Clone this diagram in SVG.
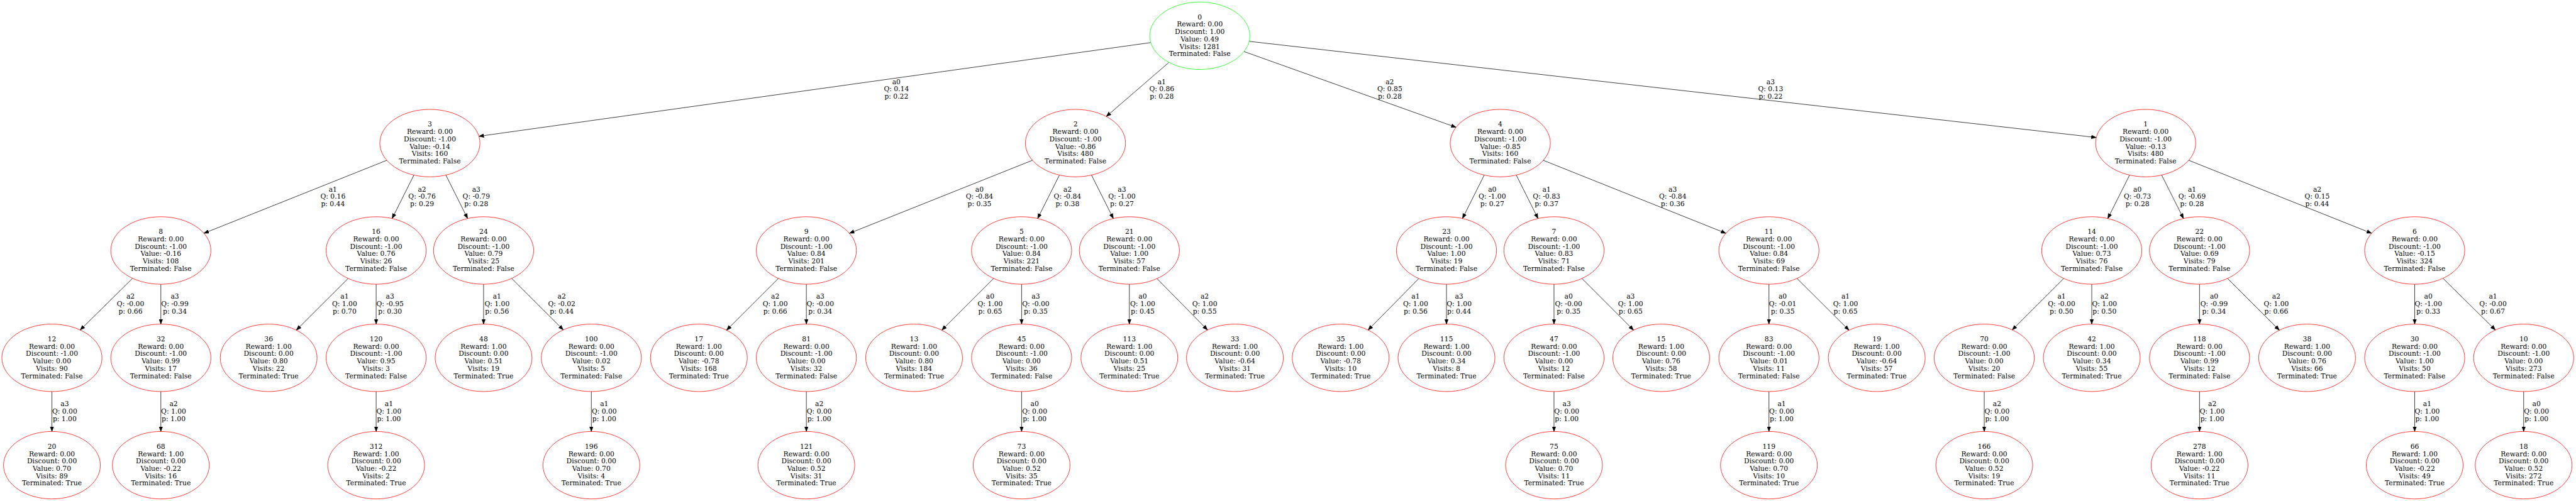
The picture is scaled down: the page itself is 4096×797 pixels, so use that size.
<svg xmlns="http://www.w3.org/2000/svg" width="4096" height="797" viewBox="0 0 4096 797">
<defs>
<style>
text{font-family:"DejaVu Serif",serif;font-size:18.5px;text-anchor:middle;fill:#000}
ellipse{fill:none;stroke:#ff0000;stroke-width:1.3}
ellipse.root{stroke:#00ff00}
.e path{fill:none;stroke:#000;stroke-width:1.3;marker-end:url(#ah)}
</style>
<marker id="ah" markerUnits="userSpaceOnUse" markerWidth="14" markerHeight="11" refX="13.5" refY="5" orient="auto" viewBox="0 0 14 10"><path d="M0,0L13.5,5L0,10Z" fill="#000" stroke="#000" stroke-width="1"/></marker>
</defs>
<rect width="4096" height="797" fill="#fff"/>
<g transform="scale(0.583226)">
<g id="connectors" class="e">
<g id="e0-3"><path d="M3137.3,116.15L1305.67,371.7"/><text x="2443.9" y="229.3">a0<tspan x="2443.9" dy="20.1">Q: 0.14</tspan><tspan x="2443.9" dy="20.1">p: 0.22</tspan></text></g>
<g id="e0-2"><path d="M3187.05,170.04L3016.05,317.81"/><text x="3167.4" y="229.3">a1<tspan x="3167.4" dy="20.1">Q: 0.86</tspan><tspan x="3167.4" dy="20.1">p: 0.28</tspan></text></g>
<g id="e0-4"><path d="M3391.59,140.61L3969.61,347.24"/><text x="3789" y="229.3">a2<tspan x="3789" dy="20.1">Q: 0.85</tspan><tspan x="3789" dy="20.1">p: 0.28</tspan></text></g>
<g id="e0-1"><path d="M3405.6,112.79L5715.1,375.06"/><text x="4827.3" y="229.3">a3<tspan x="4827.3" dy="20.1">Q: 0.13</tspan><tspan x="4827.3" dy="20.1">p: 0.22</tspan></text></g>
<g id="e3-8"><path d="M1054.56,437.24L555.94,636.31"/><text x="907.6" y="522.15">a1<tspan x="907.6" dy="20.1">Q: 0.16</tspan><tspan x="907.6" dy="20.1">p: 0.44</tspan></text></g>
<g id="e3-16"><path d="M1128.39,477.53L1069.11,596.02"/><text x="1150.6" y="522.15">a2<tspan x="1150.6" dy="20.1">Q: -0.76</tspan><tspan x="1150.6" dy="20.1">p: 0.29</tspan></text></g>
<g id="e3-24"><path d="M1215.58,477.53L1274.82,596.02"/><text x="1298.5" y="522.15">a3<tspan x="1298.5" dy="20.1">Q: -0.79</tspan><tspan x="1298.5" dy="20.1">p: 0.28</tspan></text></g>
<g id="e2-9"><path d="M2814.65,437.23L2315.85,636.32"/><text x="2670.4" y="522.15">a0<tspan x="2670.4" dy="20.1">Q: -0.84</tspan><tspan x="2670.4" dy="20.1">p: 0.35</tspan></text></g>
<g id="e2-5"><path d="M2888.38,477.5L2828.92,596.05"/><text x="2910.3" y="522.15">a2<tspan x="2910.3" dy="20.1">Q: -0.84</tspan><tspan x="2910.3" dy="20.1">p: 0.38</tspan></text></g>
<g id="e2-21"><path d="M2975.82,477.5L3035.28,596.05"/><text x="3058.8" y="522.15">a3<tspan x="3058.8" dy="20.1">Q: -1.00</tspan><tspan x="3058.8" dy="20.1">p: 0.27</tspan></text></g>
<g id="e4-23"><path d="M4046.56,477.52L3987.24,596.03"/><text x="4068.4" y="522.15">a0<tspan x="4068.4" dy="20.1">Q: -1.00</tspan><tspan x="4068.4" dy="20.1">p: 0.27</tspan></text></g>
<g id="e4-7"><path d="M4133.81,477.53L4193.09,596.02"/><text x="4216.4" y="522.15">a1<tspan x="4216.4" dy="20.1">Q: -0.83</tspan><tspan x="4216.4" dy="20.1">p: 0.37</tspan></text></g>
<g id="e4-11"><path d="M4207.6,437.29L4705.3,636.26"/><text x="4560.4" y="522.15">a3<tspan x="4560.4" dy="20.1">Q: -0.84</tspan><tspan x="4560.4" dy="20.1">p: 0.36</tspan></text></g>
<g id="e1-14"><path d="M5805.98,477.5L5746.52,596.05"/><text x="5827.3" y="522.15">a0<tspan x="5827.3" dy="20.1">Q: -0.73</tspan><tspan x="5827.3" dy="20.1">p: 0.28</tspan></text></g>
<g id="e1-22"><path d="M5893.42,477.5L5952.88,596.05"/><text x="5976.3" y="522.15">a1<tspan x="5976.3" dy="20.1">Q: -0.69</tspan><tspan x="5976.3" dy="20.1">p: 0.28</tspan></text></g>
<g id="e1-6"><path d="M5967.14,437.24L6465.76,636.31"/><text x="6317.5" y="522.15">a2<tspan x="6317.5" dy="20.1">Q: 0.15</tspan><tspan x="6317.5" dy="20.1">p: 0.44</tspan></text></g>
<g id="e8-12"><path d="M361.49,759.16L218.61,900.09"/><text x="355.9" y="815">a2<tspan x="355.9" dy="20.1">Q: -0.00</tspan><tspan x="355.9" dy="20.1">p: 0.66</tspan></text></g>
<g id="e8-32"><path d="M438.5,775.2V884.05"/><text x="476.8" y="815">a3<tspan x="476.8" dy="20.1">Q: -0.99</tspan><tspan x="476.8" dy="20.1">p: 0.34</tspan></text></g>
<g id="e16-36"><path d="M949.17,759.47L807.92,900.6"/><text x="939.4" y="815">a1<tspan x="939.4" dy="20.1">Q: 1.00</tspan><tspan x="939.4" dy="20.1">p: 0.70</tspan></text></g>
<g id="e16-120"><path d="M1025.5,775.2V884.05"/><text x="1063.4" y="815">a3<tspan x="1063.4" dy="20.1">Q: -0.95</tspan><tspan x="1063.4" dy="20.1">p: 0.30</tspan></text></g>
<g id="e24-48"><path d="M1318.4,775.2V884.05"/><text x="1355.1" y="815">a1<tspan x="1355.1" dy="20.1">Q: 1.00</tspan><tspan x="1355.1" dy="20.1">p: 0.56</tspan></text></g>
<g id="e24-100"><path d="M1394.86,759.41L1535.74,899.84"/><text x="1531.5" y="815">a2<tspan x="1531.5" dy="20.1">Q: -0.02</tspan><tspan x="1531.5" dy="20.1">p: 0.44</tspan></text></g>
<g id="e9-17"><path d="M2122.07,759.47L1980.82,900.6"/><text x="2113.5" y="815">a2<tspan x="2113.5" dy="20.1">Q: 1.00</tspan><tspan x="2113.5" dy="20.1">p: 0.66</tspan></text></g>
<g id="e9-81"><path d="M2198.4,775.2V884.05"/><text x="2236.3" y="815">a3<tspan x="2236.3" dy="20.1">Q: -0.00</tspan><tspan x="2236.3" dy="20.1">p: 0.34</tspan></text></g>
<g id="e5-13"><path d="M2708.87,759.47L2567.62,900.6"/><text x="2699.5" y="815">a0<tspan x="2699.5" dy="20.1">Q: 1.00</tspan><tspan x="2699.5" dy="20.1">p: 0.65</tspan></text></g>
<g id="e5-45"><path d="M2785.2,775.2V884.05"/><text x="2823.8" y="815">a3<tspan x="2823.8" dy="20.1">Q: -0.00</tspan><tspan x="2823.8" dy="20.1">p: 0.35</tspan></text></g>
<g id="e21-113"><path d="M3079,775.2V884.05"/><text x="3115.4" y="815">a0<tspan x="3115.4" dy="20.1">Q: 1.00</tspan><tspan x="3115.4" dy="20.1">p: 0.45</tspan></text></g>
<g id="e21-33"><path d="M3154.38,759.9L3292.21,900.15"/><text x="3284.5" y="815">a2<tspan x="3284.5" dy="20.1">Q: 1.00</tspan><tspan x="3284.5" dy="20.1">p: 0.55</tspan></text></g>
<g id="e23-35"><path d="M3868.1,759.84L3729.82,900.21"/><text x="3859.4" y="815">a1<tspan x="3859.4" dy="20.1">Q: 1.00</tspan><tspan x="3859.4" dy="20.1">p: 0.56</tspan></text></g>
<g id="e23-115"><path d="M3943.6,775.2V884.05"/><text x="3978" y="815">a3<tspan x="3978" dy="20.1">Q: 1.00</tspan><tspan x="3978" dy="20.1">p: 0.44</tspan></text></g>
<g id="e7-47"><path d="M4236.7,775.2V884.05"/><text x="4276.5" y="815">a0<tspan x="4276.5" dy="20.1">Q: -0.00</tspan><tspan x="4276.5" dy="20.1">p: 0.35</tspan></text></g>
<g id="e7-15"><path d="M4312.89,759.53L4453.62,900.53"/><text x="4445.6" y="815">a3<tspan x="4445.6" dy="20.1">Q: 1.00</tspan><tspan x="4445.6" dy="20.1">p: 0.65</tspan></text></g>
<g id="e11-83"><path d="M4822.7,775.2V884.05"/><text x="4860.2" y="815">a0<tspan x="4860.2" dy="20.1">Q: -0.01</tspan><tspan x="4860.2" dy="20.1">p: 0.35</tspan></text></g>
<g id="e11-19"><path d="M4899.18,759.4L5040.94,900.66"/><text x="5031.6" y="815">a1<tspan x="5031.6" dy="20.1">Q: 1.00</tspan><tspan x="5031.6" dy="20.1">p: 0.65</tspan></text></g>
<g id="e14-70"><path d="M5626.47,759.47L5486.03,899.78"/><text x="5620.5" y="815">a1<tspan x="5620.5" dy="20.1">Q: -0.00</tspan><tspan x="5620.5" dy="20.1">p: 0.50</tspan></text></g>
<g id="e14-42"><path d="M5702.8,775.2V884.05"/><text x="5737.6" y="815">a2<tspan x="5737.6" dy="20.1">Q: 1.00</tspan><tspan x="5737.6" dy="20.1">p: 0.50</tspan></text></g>
<g id="e22-118"><path d="M5996.6,775.2V884.05"/><text x="6036.3" y="815">a0<tspan x="6036.3" dy="20.1">Q: -0.99</tspan><tspan x="6036.3" dy="20.1">p: 0.34</tspan></text></g>
<g id="e22-38"><path d="M6072.98,759.45L6214.35,900.61"/><text x="6206" y="815">a2<tspan x="6206" dy="20.1">Q: 1.00</tspan><tspan x="6206" dy="20.1">p: 0.66</tspan></text></g>
<g id="e6-30"><path d="M6583.2,775.2V884.05"/><text x="6620.5" y="815">a0<tspan x="6620.5" dy="20.1">Q: -1.00</tspan><tspan x="6620.5" dy="20.1">p: 0.33</tspan></text></g>
<g id="e6-10"><path d="M6660.24,759.14L6803.26,900.11"/><text x="6796.8" y="815">a1<tspan x="6796.8" dy="20.1">Q: -0.00</tspan><tspan x="6796.8" dy="20.1">p: 0.67</tspan></text></g>
<g id="e12-20"><path d="M141.6,1068.05V1176.9"/><text x="176.4" y="1107.85">a3<tspan x="176.4" dy="20.1">Q: 0.00</tspan><tspan x="176.4" dy="20.1">p: 1.00</tspan></text></g>
<g id="e32-68"><path d="M438.5,1068.05V1176.9"/><text x="473.3" y="1107.85">a2<tspan x="473.3" dy="20.1">Q: 1.00</tspan><tspan x="473.3" dy="20.1">p: 1.00</tspan></text></g>
<g id="e120-312"><path d="M1025.5,1068.05V1176.9"/><text x="1060.3" y="1107.85">a1<tspan x="1060.3" dy="20.1">Q: 1.00</tspan><tspan x="1060.3" dy="20.1">p: 1.00</tspan></text></g>
<g id="e100-196"><path d="M1612.2,1068.05V1176.9"/><text x="1647.4" y="1107.85">a1<tspan x="1647.4" dy="20.1">Q: 0.00</tspan><tspan x="1647.4" dy="20.1">p: 1.00</tspan></text></g>
<g id="e81-121"><path d="M2198.4,1068.05V1176.9"/><text x="2233.6" y="1107.85">a2<tspan x="2233.6" dy="20.1">Q: 0.00</tspan><tspan x="2233.6" dy="20.1">p: 1.00</tspan></text></g>
<g id="e45-73"><path d="M2785.2,1068.05V1176.9"/><text x="2820.8" y="1107.85">a0<tspan x="2820.8" dy="20.1">Q: 0.00</tspan><tspan x="2820.8" dy="20.1">p: 1.00</tspan></text></g>
<g id="e47-75"><path d="M4236.7,1068.05V1176.9"/><text x="4271.5" y="1107.85">a3<tspan x="4271.5" dy="20.1">Q: 0.00</tspan><tspan x="4271.5" dy="20.1">p: 1.00</tspan></text></g>
<g id="e83-119"><path d="M4822.7,1068.05V1176.9"/><text x="4857.5" y="1107.85">a1<tspan x="4857.5" dy="20.1">Q: 0.00</tspan><tspan x="4857.5" dy="20.1">p: 1.00</tspan></text></g>
<g id="e70-166"><path d="M5409.7,1068.05V1176.9"/><text x="5444.5" y="1107.85">a2<tspan x="5444.5" dy="20.1">Q: 0.00</tspan><tspan x="5444.5" dy="20.1">p: 1.00</tspan></text></g>
<g id="e118-278"><path d="M5996.6,1068.05V1176.9"/><text x="6031.3" y="1107.85">a2<tspan x="6031.3" dy="20.1">Q: 1.00</tspan><tspan x="6031.3" dy="20.1">p: 1.00</tspan></text></g>
<g id="e30-66"><path d="M6583.2,1068.05V1176.9"/><text x="6617.4" y="1107.85">a1<tspan x="6617.4" dy="20.1">Q: 1.00</tspan><tspan x="6617.4" dy="20.1">p: 1.00</tspan></text></g>
<g id="e10-18"><path d="M6880.3,1068.05V1176.9"/><text x="6915.4" y="1107.85">a0<tspan x="6915.4" dy="20.1">Q: 0.00</tspan><tspan x="6915.4" dy="20.1">p: 1.00</tspan></text></g>
</g>
<g id="nodes">
<g id="node-0"><ellipse class="root" cx="3271" cy="97.5" rx="136.5" ry="92"/><text x="3271" y="52.5">0<tspan x="3271" dy="20.1">Reward: 0.00</tspan><tspan x="3271" dy="20.1">Discount: 1.00</tspan><tspan x="3271" dy="20.1">Value: 0.49</tspan><tspan x="3271" dy="20.1">Visits: 1281</tspan><tspan x="3271" dy="20.1">Terminated: False</tspan></text></g>
<g id="node-3"><ellipse cx="1172" cy="390.35" rx="136.5" ry="92"/><text x="1172" y="345.35">3<tspan x="1172" dy="20.1">Reward: 0.00</tspan><tspan x="1172" dy="20.1">Discount: -1.00</tspan><tspan x="1172" dy="20.1">Value: -0.14</tspan><tspan x="1172" dy="20.1">Visits: 160</tspan><tspan x="1172" dy="20.1">Terminated: False</tspan></text></g>
<g id="node-2"><ellipse cx="2932.1" cy="390.35" rx="136.5" ry="92"/><text x="2932.1" y="345.35">2<tspan x="2932.1" dy="20.1">Reward: 0.00</tspan><tspan x="2932.1" dy="20.1">Discount: -1.00</tspan><tspan x="2932.1" dy="20.1">Value: -0.86</tspan><tspan x="2932.1" dy="20.1">Visits: 480</tspan><tspan x="2932.1" dy="20.1">Terminated: False</tspan></text></g>
<g id="node-4"><ellipse cx="4090.2" cy="390.35" rx="136.5" ry="92"/><text x="4090.2" y="345.35">4<tspan x="4090.2" dy="20.1">Reward: 0.00</tspan><tspan x="4090.2" dy="20.1">Discount: -1.00</tspan><tspan x="4090.2" dy="20.1">Value: -0.85</tspan><tspan x="4090.2" dy="20.1">Visits: 160</tspan><tspan x="4090.2" dy="20.1">Terminated: False</tspan></text></g>
<g id="node-1"><ellipse cx="5849.7" cy="390.35" rx="136.5" ry="92"/><text x="5849.7" y="345.35">1<tspan x="5849.7" dy="20.1">Reward: 0.00</tspan><tspan x="5849.7" dy="20.1">Discount: -1.00</tspan><tspan x="5849.7" dy="20.1">Value: -0.13</tspan><tspan x="5849.7" dy="20.1">Visits: 480</tspan><tspan x="5849.7" dy="20.1">Terminated: False</tspan></text></g>
<g id="node-8"><ellipse cx="438.5" cy="683.2" rx="136.5" ry="92"/><text x="438.5" y="638.2">8<tspan x="438.5" dy="20.1">Reward: 0.00</tspan><tspan x="438.5" dy="20.1">Discount: -1.00</tspan><tspan x="438.5" dy="20.1">Value: -0.16</tspan><tspan x="438.5" dy="20.1">Visits: 108</tspan><tspan x="438.5" dy="20.1">Terminated: False</tspan></text></g>
<g id="node-16"><ellipse cx="1025.5" cy="683.2" rx="136.5" ry="92"/><text x="1025.5" y="638.2">16<tspan x="1025.5" dy="20.1">Reward: 0.00</tspan><tspan x="1025.5" dy="20.1">Discount: -1.00</tspan><tspan x="1025.5" dy="20.1">Value: 0.76</tspan><tspan x="1025.5" dy="20.1">Visits: 26</tspan><tspan x="1025.5" dy="20.1">Terminated: False</tspan></text></g>
<g id="node-24"><ellipse cx="1318.4" cy="683.2" rx="136.5" ry="92"/><text x="1318.4" y="638.2">24<tspan x="1318.4" dy="20.1">Reward: 0.00</tspan><tspan x="1318.4" dy="20.1">Discount: -1.00</tspan><tspan x="1318.4" dy="20.1">Value: 0.79</tspan><tspan x="1318.4" dy="20.1">Visits: 25</tspan><tspan x="1318.4" dy="20.1">Terminated: False</tspan></text></g>
<g id="node-9"><ellipse cx="2198.4" cy="683.2" rx="136.5" ry="92"/><text x="2198.4" y="638.2">9<tspan x="2198.4" dy="20.1">Reward: 0.00</tspan><tspan x="2198.4" dy="20.1">Discount: -1.00</tspan><tspan x="2198.4" dy="20.1">Value: 0.84</tspan><tspan x="2198.4" dy="20.1">Visits: 201</tspan><tspan x="2198.4" dy="20.1">Terminated: False</tspan></text></g>
<g id="node-5"><ellipse cx="2785.2" cy="683.2" rx="136.5" ry="92"/><text x="2785.2" y="638.2">5<tspan x="2785.2" dy="20.1">Reward: 0.00</tspan><tspan x="2785.2" dy="20.1">Discount: -1.00</tspan><tspan x="2785.2" dy="20.1">Value: 0.84</tspan><tspan x="2785.2" dy="20.1">Visits: 221</tspan><tspan x="2785.2" dy="20.1">Terminated: False</tspan></text></g>
<g id="node-21"><ellipse cx="3079" cy="683.2" rx="136.5" ry="92"/><text x="3079" y="638.2">21<tspan x="3079" dy="20.1">Reward: 0.00</tspan><tspan x="3079" dy="20.1">Discount: -1.00</tspan><tspan x="3079" dy="20.1">Value: 1.00</tspan><tspan x="3079" dy="20.1">Visits: 57</tspan><tspan x="3079" dy="20.1">Terminated: False</tspan></text></g>
<g id="node-23"><ellipse cx="3943.6" cy="683.2" rx="136.5" ry="92"/><text x="3943.6" y="638.2">23<tspan x="3943.6" dy="20.1">Reward: 0.00</tspan><tspan x="3943.6" dy="20.1">Discount: -1.00</tspan><tspan x="3943.6" dy="20.1">Value: 1.00</tspan><tspan x="3943.6" dy="20.1">Visits: 19</tspan><tspan x="3943.6" dy="20.1">Terminated: False</tspan></text></g>
<g id="node-7"><ellipse cx="4236.7" cy="683.2" rx="136.5" ry="92"/><text x="4236.7" y="638.2">7<tspan x="4236.7" dy="20.1">Reward: 0.00</tspan><tspan x="4236.7" dy="20.1">Discount: -1.00</tspan><tspan x="4236.7" dy="20.1">Value: 0.83</tspan><tspan x="4236.7" dy="20.1">Visits: 71</tspan><tspan x="4236.7" dy="20.1">Terminated: False</tspan></text></g>
<g id="node-11"><ellipse cx="4822.7" cy="683.2" rx="136.5" ry="92"/><text x="4822.7" y="638.2">11<tspan x="4822.7" dy="20.1">Reward: 0.00</tspan><tspan x="4822.7" dy="20.1">Discount: -1.00</tspan><tspan x="4822.7" dy="20.1">Value: 0.84</tspan><tspan x="4822.7" dy="20.1">Visits: 69</tspan><tspan x="4822.7" dy="20.1">Terminated: False</tspan></text></g>
<g id="node-14"><ellipse cx="5702.8" cy="683.2" rx="136.5" ry="92"/><text x="5702.8" y="638.2">14<tspan x="5702.8" dy="20.1">Reward: 0.00</tspan><tspan x="5702.8" dy="20.1">Discount: -1.00</tspan><tspan x="5702.8" dy="20.1">Value: 0.73</tspan><tspan x="5702.8" dy="20.1">Visits: 76</tspan><tspan x="5702.8" dy="20.1">Terminated: False</tspan></text></g>
<g id="node-22"><ellipse cx="5996.6" cy="683.2" rx="136.5" ry="92"/><text x="5996.6" y="638.2">22<tspan x="5996.6" dy="20.1">Reward: 0.00</tspan><tspan x="5996.6" dy="20.1">Discount: -1.00</tspan><tspan x="5996.6" dy="20.1">Value: 0.69</tspan><tspan x="5996.6" dy="20.1">Visits: 79</tspan><tspan x="5996.6" dy="20.1">Terminated: False</tspan></text></g>
<g id="node-6"><ellipse cx="6583.2" cy="683.2" rx="136.5" ry="92"/><text x="6583.2" y="638.2">6<tspan x="6583.2" dy="20.1">Reward: 0.00</tspan><tspan x="6583.2" dy="20.1">Discount: -1.00</tspan><tspan x="6583.2" dy="20.1">Value: -0.15</tspan><tspan x="6583.2" dy="20.1">Visits: 324</tspan><tspan x="6583.2" dy="20.1">Terminated: False</tspan></text></g>
<g id="node-12"><ellipse cx="141.6" cy="976.05" rx="136.5" ry="92"/><text x="141.6" y="931.05">12<tspan x="141.6" dy="20.1">Reward: 0.00</tspan><tspan x="141.6" dy="20.1">Discount: -1.00</tspan><tspan x="141.6" dy="20.1">Value: 0.00</tspan><tspan x="141.6" dy="20.1">Visits: 90</tspan><tspan x="141.6" dy="20.1">Terminated: False</tspan></text></g>
<g id="node-32"><ellipse cx="438.5" cy="976.05" rx="136.5" ry="92"/><text x="438.5" y="931.05">32<tspan x="438.5" dy="20.1">Reward: 0.00</tspan><tspan x="438.5" dy="20.1">Discount: -1.00</tspan><tspan x="438.5" dy="20.1">Value: 0.99</tspan><tspan x="438.5" dy="20.1">Visits: 17</tspan><tspan x="438.5" dy="20.1">Terminated: False</tspan></text></g>
<g id="node-36"><ellipse cx="732.4" cy="976.05" rx="132" ry="92"/><text x="732.4" y="931.05">36<tspan x="732.4" dy="20.1">Reward: 1.00</tspan><tspan x="732.4" dy="20.1">Discount: 0.00</tspan><tspan x="732.4" dy="20.1">Value: 0.80</tspan><tspan x="732.4" dy="20.1">Visits: 22</tspan><tspan x="732.4" dy="20.1">Terminated: True</tspan></text></g>
<g id="node-120"><ellipse cx="1025.5" cy="976.05" rx="136.5" ry="92"/><text x="1025.5" y="931.05">120<tspan x="1025.5" dy="20.1">Reward: 0.00</tspan><tspan x="1025.5" dy="20.1">Discount: -1.00</tspan><tspan x="1025.5" dy="20.1">Value: 0.95</tspan><tspan x="1025.5" dy="20.1">Visits: 3</tspan><tspan x="1025.5" dy="20.1">Terminated: False</tspan></text></g>
<g id="node-48"><ellipse cx="1318.4" cy="976.05" rx="132" ry="92"/><text x="1318.4" y="931.05">48<tspan x="1318.4" dy="20.1">Reward: 1.00</tspan><tspan x="1318.4" dy="20.1">Discount: 0.00</tspan><tspan x="1318.4" dy="20.1">Value: 0.51</tspan><tspan x="1318.4" dy="20.1">Visits: 19</tspan><tspan x="1318.4" dy="20.1">Terminated: True</tspan></text></g>
<g id="node-100"><ellipse cx="1612.2" cy="976.05" rx="136.5" ry="92"/><text x="1612.2" y="931.05">100<tspan x="1612.2" dy="20.1">Reward: 0.00</tspan><tspan x="1612.2" dy="20.1">Discount: -1.00</tspan><tspan x="1612.2" dy="20.1">Value: 0.02</tspan><tspan x="1612.2" dy="20.1">Visits: 5</tspan><tspan x="1612.2" dy="20.1">Terminated: False</tspan></text></g>
<g id="node-17"><ellipse cx="1905.3" cy="976.05" rx="132" ry="92"/><text x="1905.3" y="931.05">17<tspan x="1905.3" dy="20.1">Reward: 1.00</tspan><tspan x="1905.3" dy="20.1">Discount: 0.00</tspan><tspan x="1905.3" dy="20.1">Value: -0.78</tspan><tspan x="1905.3" dy="20.1">Visits: 168</tspan><tspan x="1905.3" dy="20.1">Terminated: True</tspan></text></g>
<g id="node-81"><ellipse cx="2198.4" cy="976.05" rx="136.5" ry="92"/><text x="2198.4" y="931.05">81<tspan x="2198.4" dy="20.1">Reward: 0.00</tspan><tspan x="2198.4" dy="20.1">Discount: -1.00</tspan><tspan x="2198.4" dy="20.1">Value: 0.00</tspan><tspan x="2198.4" dy="20.1">Visits: 32</tspan><tspan x="2198.4" dy="20.1">Terminated: False</tspan></text></g>
<g id="node-13"><ellipse cx="2492.1" cy="976.05" rx="132" ry="92"/><text x="2492.1" y="931.05">13<tspan x="2492.1" dy="20.1">Reward: 1.00</tspan><tspan x="2492.1" dy="20.1">Discount: 0.00</tspan><tspan x="2492.1" dy="20.1">Value: 0.80</tspan><tspan x="2492.1" dy="20.1">Visits: 184</tspan><tspan x="2492.1" dy="20.1">Terminated: True</tspan></text></g>
<g id="node-45"><ellipse cx="2785.2" cy="976.05" rx="136.5" ry="92"/><text x="2785.2" y="931.05">45<tspan x="2785.2" dy="20.1">Reward: 0.00</tspan><tspan x="2785.2" dy="20.1">Discount: -1.00</tspan><tspan x="2785.2" dy="20.1">Value: 0.00</tspan><tspan x="2785.2" dy="20.1">Visits: 36</tspan><tspan x="2785.2" dy="20.1">Terminated: False</tspan></text></g>
<g id="node-113"><ellipse cx="3079" cy="976.05" rx="132" ry="92"/><text x="3079" y="931.05">113<tspan x="3079" dy="20.1">Reward: 1.00</tspan><tspan x="3079" dy="20.1">Discount: 0.00</tspan><tspan x="3079" dy="20.1">Value: 0.51</tspan><tspan x="3079" dy="20.1">Visits: 25</tspan><tspan x="3079" dy="20.1">Terminated: True</tspan></text></g>
<g id="node-33"><ellipse cx="3366.8" cy="976.05" rx="132" ry="92"/><text x="3366.8" y="931.05">33<tspan x="3366.8" dy="20.1">Reward: 1.00</tspan><tspan x="3366.8" dy="20.1">Discount: 0.00</tspan><tspan x="3366.8" dy="20.1">Value: -0.64</tspan><tspan x="3366.8" dy="20.1">Visits: 31</tspan><tspan x="3366.8" dy="20.1">Terminated: True</tspan></text></g>
<g id="node-35"><ellipse cx="3655.1" cy="976.05" rx="132" ry="92"/><text x="3655.1" y="931.05">35<tspan x="3655.1" dy="20.1">Reward: 1.00</tspan><tspan x="3655.1" dy="20.1">Discount: 0.00</tspan><tspan x="3655.1" dy="20.1">Value: -0.78</tspan><tspan x="3655.1" dy="20.1">Visits: 10</tspan><tspan x="3655.1" dy="20.1">Terminated: True</tspan></text></g>
<g id="node-115"><ellipse cx="3943.6" cy="976.05" rx="132" ry="92"/><text x="3943.6" y="931.05">115<tspan x="3943.6" dy="20.1">Reward: 1.00</tspan><tspan x="3943.6" dy="20.1">Discount: 0.00</tspan><tspan x="3943.6" dy="20.1">Value: 0.34</tspan><tspan x="3943.6" dy="20.1">Visits: 8</tspan><tspan x="3943.6" dy="20.1">Terminated: True</tspan></text></g>
<g id="node-47"><ellipse cx="4236.7" cy="976.05" rx="136.5" ry="92"/><text x="4236.7" y="931.05">47<tspan x="4236.7" dy="20.1">Reward: 0.00</tspan><tspan x="4236.7" dy="20.1">Discount: -1.00</tspan><tspan x="4236.7" dy="20.1">Value: 0.00</tspan><tspan x="4236.7" dy="20.1">Visits: 12</tspan><tspan x="4236.7" dy="20.1">Terminated: False</tspan></text></g>
<g id="node-15"><ellipse cx="4529" cy="976.05" rx="132" ry="92"/><text x="4529" y="931.05">15<tspan x="4529" dy="20.1">Reward: 1.00</tspan><tspan x="4529" dy="20.1">Discount: 0.00</tspan><tspan x="4529" dy="20.1">Value: 0.76</tspan><tspan x="4529" dy="20.1">Visits: 58</tspan><tspan x="4529" dy="20.1">Terminated: True</tspan></text></g>
<g id="node-83"><ellipse cx="4822.7" cy="976.05" rx="136.5" ry="92"/><text x="4822.7" y="931.05">83<tspan x="4822.7" dy="20.1">Reward: 0.00</tspan><tspan x="4822.7" dy="20.1">Discount: -1.00</tspan><tspan x="4822.7" dy="20.1">Value: 0.01</tspan><tspan x="4822.7" dy="20.1">Visits: 11</tspan><tspan x="4822.7" dy="20.1">Terminated: False</tspan></text></g>
<g id="node-19"><ellipse cx="5116.6" cy="976.05" rx="132" ry="92"/><text x="5116.6" y="931.05">19<tspan x="5116.6" dy="20.1">Reward: 1.00</tspan><tspan x="5116.6" dy="20.1">Discount: 0.00</tspan><tspan x="5116.6" dy="20.1">Value: -0.64</tspan><tspan x="5116.6" dy="20.1">Visits: 57</tspan><tspan x="5116.6" dy="20.1">Terminated: True</tspan></text></g>
<g id="node-70"><ellipse cx="5409.7" cy="976.05" rx="136.5" ry="92"/><text x="5409.7" y="931.05">70<tspan x="5409.7" dy="20.1">Reward: 0.00</tspan><tspan x="5409.7" dy="20.1">Discount: -1.00</tspan><tspan x="5409.7" dy="20.1">Value: 0.00</tspan><tspan x="5409.7" dy="20.1">Visits: 20</tspan><tspan x="5409.7" dy="20.1">Terminated: False</tspan></text></g>
<g id="node-42"><ellipse cx="5702.8" cy="976.05" rx="132" ry="92"/><text x="5702.8" y="931.05">42<tspan x="5702.8" dy="20.1">Reward: 1.00</tspan><tspan x="5702.8" dy="20.1">Discount: 0.00</tspan><tspan x="5702.8" dy="20.1">Value: 0.34</tspan><tspan x="5702.8" dy="20.1">Visits: 55</tspan><tspan x="5702.8" dy="20.1">Terminated: True</tspan></text></g>
<g id="node-118"><ellipse cx="5996.6" cy="976.05" rx="136.5" ry="92"/><text x="5996.6" y="931.05">118<tspan x="5996.6" dy="20.1">Reward: 0.00</tspan><tspan x="5996.6" dy="20.1">Discount: -1.00</tspan><tspan x="5996.6" dy="20.1">Value: 0.99</tspan><tspan x="5996.6" dy="20.1">Visits: 12</tspan><tspan x="5996.6" dy="20.1">Terminated: False</tspan></text></g>
<g id="node-38"><ellipse cx="6289.9" cy="976.05" rx="132" ry="92"/><text x="6289.9" y="931.05">38<tspan x="6289.9" dy="20.1">Reward: 1.00</tspan><tspan x="6289.9" dy="20.1">Discount: 0.00</tspan><tspan x="6289.9" dy="20.1">Value: 0.76</tspan><tspan x="6289.9" dy="20.1">Visits: 66</tspan><tspan x="6289.9" dy="20.1">Terminated: True</tspan></text></g>
<g id="node-30"><ellipse cx="6583.2" cy="976.05" rx="136.5" ry="92"/><text x="6583.2" y="931.05">30<tspan x="6583.2" dy="20.1">Reward: 0.00</tspan><tspan x="6583.2" dy="20.1">Discount: -1.00</tspan><tspan x="6583.2" dy="20.1">Value: 1.00</tspan><tspan x="6583.2" dy="20.1">Visits: 50</tspan><tspan x="6583.2" dy="20.1">Terminated: False</tspan></text></g>
<g id="node-10"><ellipse cx="6880.3" cy="976.05" rx="136.5" ry="92"/><text x="6880.3" y="931.05">10<tspan x="6880.3" dy="20.1">Reward: 0.00</tspan><tspan x="6880.3" dy="20.1">Discount: -1.00</tspan><tspan x="6880.3" dy="20.1">Value: 0.00</tspan><tspan x="6880.3" dy="20.1">Visits: 273</tspan><tspan x="6880.3" dy="20.1">Terminated: False</tspan></text></g>
<g id="node-20"><ellipse cx="141.6" cy="1268.9" rx="132" ry="92"/><text x="141.6" y="1223.9">20<tspan x="141.6" dy="20.1">Reward: 0.00</tspan><tspan x="141.6" dy="20.1">Discount: 0.00</tspan><tspan x="141.6" dy="20.1">Value: 0.70</tspan><tspan x="141.6" dy="20.1">Visits: 89</tspan><tspan x="141.6" dy="20.1">Terminated: True</tspan></text></g>
<g id="node-68"><ellipse cx="438.5" cy="1268.9" rx="132" ry="92"/><text x="438.5" y="1223.9">68<tspan x="438.5" dy="20.1">Reward: 1.00</tspan><tspan x="438.5" dy="20.1">Discount: 0.00</tspan><tspan x="438.5" dy="20.1">Value: -0.22</tspan><tspan x="438.5" dy="20.1">Visits: 16</tspan><tspan x="438.5" dy="20.1">Terminated: True</tspan></text></g>
<g id="node-312"><ellipse cx="1025.5" cy="1268.9" rx="132" ry="92"/><text x="1025.5" y="1223.9">312<tspan x="1025.5" dy="20.1">Reward: 1.00</tspan><tspan x="1025.5" dy="20.1">Discount: 0.00</tspan><tspan x="1025.5" dy="20.1">Value: -0.22</tspan><tspan x="1025.5" dy="20.1">Visits: 2</tspan><tspan x="1025.5" dy="20.1">Terminated: True</tspan></text></g>
<g id="node-196"><ellipse cx="1612.2" cy="1268.9" rx="132" ry="92"/><text x="1612.2" y="1223.9">196<tspan x="1612.2" dy="20.1">Reward: 0.00</tspan><tspan x="1612.2" dy="20.1">Discount: 0.00</tspan><tspan x="1612.2" dy="20.1">Value: 0.70</tspan><tspan x="1612.2" dy="20.1">Visits: 4</tspan><tspan x="1612.2" dy="20.1">Terminated: True</tspan></text></g>
<g id="node-121"><ellipse cx="2198.4" cy="1268.9" rx="132" ry="92"/><text x="2198.4" y="1223.9">121<tspan x="2198.4" dy="20.1">Reward: 0.00</tspan><tspan x="2198.4" dy="20.1">Discount: 0.00</tspan><tspan x="2198.4" dy="20.1">Value: 0.52</tspan><tspan x="2198.4" dy="20.1">Visits: 31</tspan><tspan x="2198.4" dy="20.1">Terminated: True</tspan></text></g>
<g id="node-73"><ellipse cx="2785.2" cy="1268.9" rx="132" ry="92"/><text x="2785.2" y="1223.9">73<tspan x="2785.2" dy="20.1">Reward: 0.00</tspan><tspan x="2785.2" dy="20.1">Discount: 0.00</tspan><tspan x="2785.2" dy="20.1">Value: 0.52</tspan><tspan x="2785.2" dy="20.1">Visits: 35</tspan><tspan x="2785.2" dy="20.1">Terminated: True</tspan></text></g>
<g id="node-75"><ellipse cx="4236.7" cy="1268.9" rx="132" ry="92"/><text x="4236.7" y="1223.9">75<tspan x="4236.7" dy="20.1">Reward: 0.00</tspan><tspan x="4236.7" dy="20.1">Discount: 0.00</tspan><tspan x="4236.7" dy="20.1">Value: 0.70</tspan><tspan x="4236.7" dy="20.1">Visits: 11</tspan><tspan x="4236.7" dy="20.1">Terminated: True</tspan></text></g>
<g id="node-119"><ellipse cx="4822.7" cy="1268.9" rx="132" ry="92"/><text x="4822.7" y="1223.9">119<tspan x="4822.7" dy="20.1">Reward: 0.00</tspan><tspan x="4822.7" dy="20.1">Discount: 0.00</tspan><tspan x="4822.7" dy="20.1">Value: 0.70</tspan><tspan x="4822.7" dy="20.1">Visits: 10</tspan><tspan x="4822.7" dy="20.1">Terminated: True</tspan></text></g>
<g id="node-166"><ellipse cx="5409.7" cy="1268.9" rx="132" ry="92"/><text x="5409.7" y="1223.9">166<tspan x="5409.7" dy="20.1">Reward: 0.00</tspan><tspan x="5409.7" dy="20.1">Discount: 0.00</tspan><tspan x="5409.7" dy="20.1">Value: 0.52</tspan><tspan x="5409.7" dy="20.1">Visits: 19</tspan><tspan x="5409.7" dy="20.1">Terminated: True</tspan></text></g>
<g id="node-278"><ellipse cx="5996.6" cy="1268.9" rx="132" ry="92"/><text x="5996.6" y="1223.9">278<tspan x="5996.6" dy="20.1">Reward: 1.00</tspan><tspan x="5996.6" dy="20.1">Discount: 0.00</tspan><tspan x="5996.6" dy="20.1">Value: -0.22</tspan><tspan x="5996.6" dy="20.1">Visits: 11</tspan><tspan x="5996.6" dy="20.1">Terminated: True</tspan></text></g>
<g id="node-66"><ellipse cx="6583.2" cy="1268.9" rx="132" ry="92"/><text x="6583.2" y="1223.9">66<tspan x="6583.2" dy="20.1">Reward: 1.00</tspan><tspan x="6583.2" dy="20.1">Discount: 0.00</tspan><tspan x="6583.2" dy="20.1">Value: -0.22</tspan><tspan x="6583.2" dy="20.1">Visits: 49</tspan><tspan x="6583.2" dy="20.1">Terminated: True</tspan></text></g>
<g id="node-18"><ellipse cx="6880.3" cy="1268.9" rx="132" ry="92"/><text x="6880.3" y="1223.9">18<tspan x="6880.3" dy="20.1">Reward: 0.00</tspan><tspan x="6880.3" dy="20.1">Discount: 0.00</tspan><tspan x="6880.3" dy="20.1">Value: 0.52</tspan><tspan x="6880.3" dy="20.1">Visits: 272</tspan><tspan x="6880.3" dy="20.1">Terminated: True</tspan></text></g>
</g>
</g>
</svg>
